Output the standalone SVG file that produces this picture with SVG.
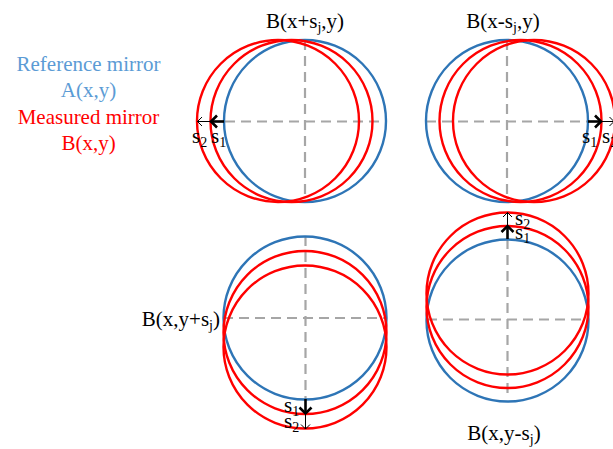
<svg xmlns="http://www.w3.org/2000/svg" width="613" height="449" viewBox="0 0 613 449">
<style>
.bg{fill:#ffffff}
.blue{fill:none;stroke:#2E75B6;stroke-width:2.4}
.red{fill:none;stroke:#FF0000;stroke-width:2.4}
.dash{fill:none;stroke:#A6A6A6;stroke-width:2.2;stroke-dasharray:10 6}
.thick{fill:none;stroke:#000;stroke-width:2.6}
.thin{fill:none;stroke:#000;stroke-width:1}
text{font-family:"Liberation Serif","Times New Roman",serif;font-size:21px;fill:#000}
.lb{fill:#5B9BD5}
.lr{fill:#FF0000}
.sub{font-size:14px}
</style>
<rect class="bg" x="0" y="0" width="613" height="449"/>
<g id="legend">
<text class="lb" x="88.5" y="71" text-anchor="middle">Reference mirror</text>
<text class="lb" x="88.5" y="97" text-anchor="middle">A(x,y)</text>
<text class="lr" x="88.5" y="124" text-anchor="middle">Measured mirror</text>
<text class="lr" x="88.5" y="150" text-anchor="middle">B(x,y)</text>
</g>
<g id="panel-x-plus">
<line class="dash" x1="305" y1="40" x2="305" y2="202"/>
<line class="dash" x1="225" y1="121.5" x2="387" y2="121.5"/>
<circle class="blue" cx="305" cy="121" r="81"/>
<circle class="red" cx="291.5" cy="121" r="81"/>
<circle class="red" cx="278" cy="121" r="81"/>
<text x="305" y="28" text-anchor="middle">B(x+s<tspan class="sub" dy="4">j</tspan><tspan dy="-4">,y)</tspan></text>
<text x="192" y="143">s<tspan class="sub" dy="4">2</tspan></text>
<text x="211" y="143">s<tspan class="sub" dy="4">1</tspan></text>
</g>
<g id="panel-x-minus">
<line class="dash" x1="507" y1="40" x2="507" y2="202"/>
<line class="dash" x1="426" y1="121.5" x2="588" y2="121.5"/>
<circle class="blue" cx="507" cy="121" r="81"/>
<circle class="red" cx="520.5" cy="121" r="81"/>
<circle class="red" cx="534" cy="121" r="81"/>
<text x="503" y="28" text-anchor="middle">B(x-s<tspan class="sub" dy="4">j</tspan><tspan dy="-4">,y)</tspan></text>
<text x="582" y="143">s<tspan class="sub" dy="4">1</tspan></text>
<text x="602" y="143">s<tspan class="sub" dy="4">2</tspan></text>
</g>
<g id="panel-y-plus">
<line class="dash" x1="305.5" y1="236" x2="305.5" y2="400"/>
<line class="dash" x1="223" y1="318" x2="387" y2="318"/>
<circle class="blue" cx="305" cy="318" r="81.5"/>
<circle class="red" cx="305" cy="332.5" r="81.5"/>
<circle class="red" cx="305" cy="347" r="81.5"/>
<text x="220" y="326" text-anchor="end">B(x,y+s<tspan class="sub" dy="4">j</tspan><tspan dy="-4">)</tspan></text>
<text x="284" y="412">s<tspan class="sub" dy="4">1</tspan></text>
<text x="284" y="428">s<tspan class="sub" dy="4">2</tspan></text>
</g>
<g id="panel-y-minus">
<line class="dash" x1="507.5" y1="239" x2="507.5" y2="396"/>
<line class="dash" x1="427" y1="319.5" x2="588" y2="319.5"/>
<circle class="blue" cx="507.5" cy="320.5" r="81"/>
<circle class="red" cx="507.5" cy="307" r="81"/>
<circle class="red" cx="507.5" cy="293.5" r="81"/>
<text x="504" y="440" text-anchor="middle">B(x,y-s<tspan class="sub" dy="4">j</tspan><tspan dy="-4">)</tspan></text>
<text x="515" y="225">s<tspan class="sub" dy="4">2</tspan></text>
<text x="515" y="239">s<tspan class="sub" dy="4">1</tspan></text>
</g>
<g id="connectors">
<line class="thick" x1="224" y1="121.5" x2="211" y2="121.5"/>
<polyline class="thick" points="217,115.5 211,121.5 217,127.5"/>
<line class="thin" x1="211" y1="121.5" x2="197.5" y2="121.5"/>
<polyline class="thin" points="202,117 197.5,121.5 202,126"/>
<line class="thick" x1="588" y1="121.5" x2="601" y2="121.5"/>
<polyline class="thick" points="595,115.5 601,121.5 595,127.5"/>
<line class="thin" x1="601" y1="121.5" x2="614" y2="121.5"/>
<polyline class="thin" points="609.5,117 614,121.5 609.5,126"/>
<line class="thick" x1="305.5" y1="399" x2="305.5" y2="413.5"/>
<polyline class="thick" points="299.5,407.5 305.5,413.5 311.5,407.5"/>
<line class="thin" x1="305.5" y1="413.5" x2="305.5" y2="429"/>
<polyline class="thin" points="301,424.5 305.5,429 310,424.5"/>
<line class="thick" x1="507.5" y1="239" x2="507.5" y2="226"/>
<polyline class="thick" points="501.5,232 507.5,226 513.5,232"/>
<line class="thin" x1="507.5" y1="226" x2="507.5" y2="212.5"/>
<polyline class="thin" points="503,217 507.5,212.5 512,217"/>
</g>
</svg>
